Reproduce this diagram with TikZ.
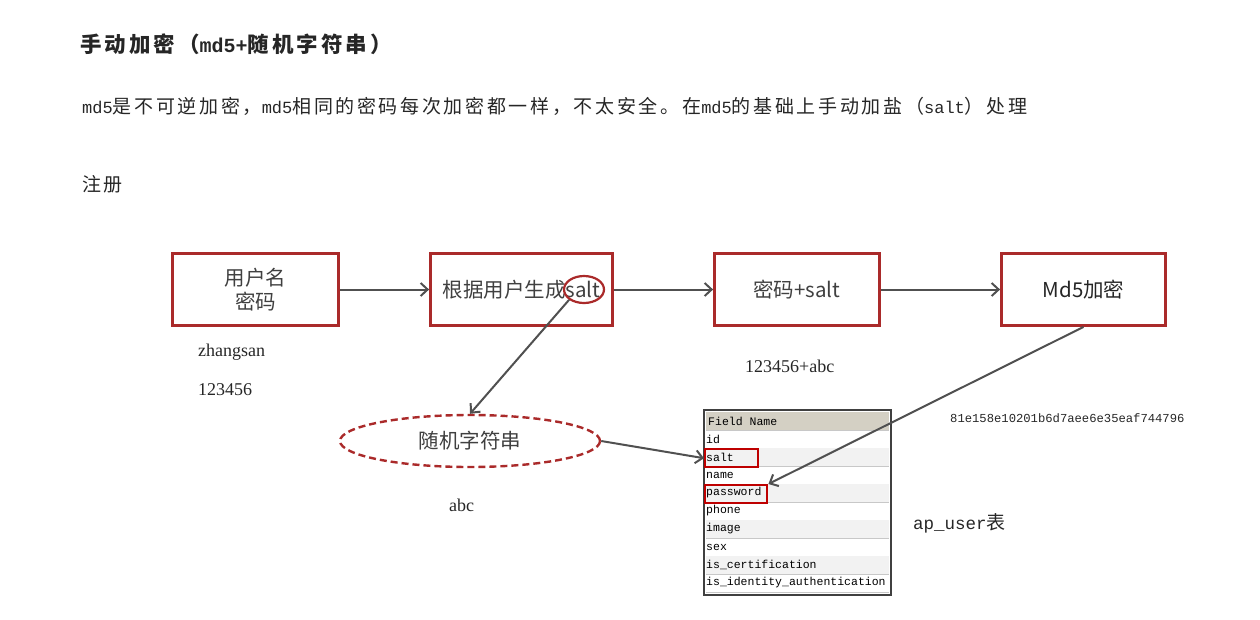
\documentclass[tikz,border=0pt]{standalone}
\usepackage{fontspec}
\setmainfont{Liberation Serif}
\newfontfamily\cjk{Noto Sans CJK SC}
\newfontfamily\cjkwide[LetterSpace=14]{Noto Sans CJK SC}
\newfontfamily\mono{Liberation Mono}
\usetikzlibrary{arrows.meta,shapes.geometric}
\definecolor{boxred}{RGB}{170,42,42}
\definecolor{markred}{RGB}{190,0,0}
\definecolor{linegray}{RGB}{80,80,80}
\definecolor{boxtext}{RGB}{64,64,64}
\definecolor{headgray}{RGB}{212,208,196}
\definecolor{rowgray}{RGB}{242,242,242}
\definecolor{rulegray}{RGB}{200,200,200}
\newcommand\lat[1]{{\mono\fontsize{17}{18}\selectfont #1}}
\tikzset{
  stepbox/.style={draw=boxred,line width=2.8pt,minimum height=72pt,align=center,
    text=boxtext,font=\cjk\fontsize{20.5}{24}\selectfont},
  flow/.style={-{Straight Barb[length=7pt,width=13pt]},draw=linegray,line width=2pt},
  note/.style={font=\fontsize{18}{20}\selectfont,text=black!85,anchor=west,inner sep=0pt},
  heading/.style={anchor=west,inner sep=0pt,text=black!85},
  field/.style={font=\mono\fontsize{11.5}{12}\selectfont,anchor=west,inner sep=1pt},
  markbox/.style={draw=markred,line width=2.4pt,anchor=north west,minimum height=18pt,inner sep=0pt}
}
\begin{document}
\begin{tikzpicture}[x=1pt,y=-1pt]
  \useasboundingbox (0,0) rectangle (1260,619);

  % headings
  \node[heading] (title) at (80,44)
    {\fontsize{21.5}{24}\selectfont\bfseries{\cjkwide 手动加密（}{\mono\fontsize{20}{22}\selectfont\bfseries md5+}{\cjkwide 随机字符串）}};
  \node[heading] (intro) at (82,106)
    {\cjkwide\fontsize{19}{22}\selectfont \lat{md5}是不可逆加密，\lat{md5}相同的密码每次加密都一样，不太安全。在\lat{md5}的基础上手动加盐（\lat{salt}）处理};
  \node[heading] (reg) at (82,184) {\cjkwide\fontsize{19}{22}\selectfont 注册};

  % steps
  \node[stepbox,minimum width=166pt] (input) at (255.5,289.5) {用户名\\密码};
  \node[stepbox,minimum width=182pt] (gensalt) at (521.5,289.5) {根据用户生成salt};
  \node[stepbox,minimum width=165pt] (mix) at (797,289.5) {密码+salt};
  \node[stepbox,minimum width=164pt,text=black!85] (md5) at (1083.5,289.5) {Md5加密};
  \node[ellipse,draw=boxred,line width=2.2pt,minimum width=40pt,minimum height=27pt,inner sep=0pt] (saltmark) at (584,289.5) {};

  \draw[flow] (input) -- (gensalt);
  \draw[flow] (gensalt) -- (mix);
  \draw[flow] (mix) -- (md5);

  \node[ellipse,draw=boxred,dashed,dash pattern=on 7pt off 4pt,line width=2.4pt,
    minimum width=260pt,minimum height=52pt,text=boxtext,font=\cjk\fontsize{20.5}{24}\selectfont] (rnd) at (470,441) {随机字符串};

  % sample values
  \node[note] (user) at (198,352) {zhangsan};
  \node[note] (pwd) at (198,390) {123456};
  \node[note] (mixed) at (745,366) {123456+abc};
  \node[note] (abc) at (449,505) {abc};
  \node[note,font=\mono\fontsize{12.2}{14}\selectfont] (hash) at (950,418) {81e158e10201b6d7aee6e35eaf744796};
  \node[note] (tbl) at (913,523) {{\mono\fontsize{17.5}{20}\selectfont ap\_user}{\cjk\fontsize{19}{20}\selectfont 表}};

  % ap_user table
  \fill[headgray] (706,412) rectangle (889,430);
  \foreach \f [count=\i] in {id,salt,name,password,phone,image,sex,is\_certification,is\_identity\_authentication} {
    \ifodd\i\else
      \fill[rowgray] (706,{430+18*(\i-1)}) rectangle (889,{448+18*(\i-1)});
    \fi
    \draw[rulegray,line width=0.8pt] (706,{448+18*(\i-1)}) -- (889,{448+18*(\i-1)});
    \node[field] (f\i) at (705,{439+18*(\i-1)}) {\f};
  }
  \draw[rulegray,line width=0.8pt] (706,430) -- (889,430);
  \node[field] (fhead) at (707,421.5) {Field Name};
  \draw[black!75,line width=1.8pt] (704,410) rectangle (891,595);

  \node[markbox,minimum width=53pt] (saltcell) at (704,448) {};
  \node[markbox,minimum width=62pt] (pwmark) at (704,484) {};

  \draw[flow] (saltmark.south west) -- (rnd.north);
  \draw[flow] (rnd.east) -- (saltcell.west);
  \draw[flow] (md5.south) -- (pwmark.north east);
\end{tikzpicture}
\end{document}
